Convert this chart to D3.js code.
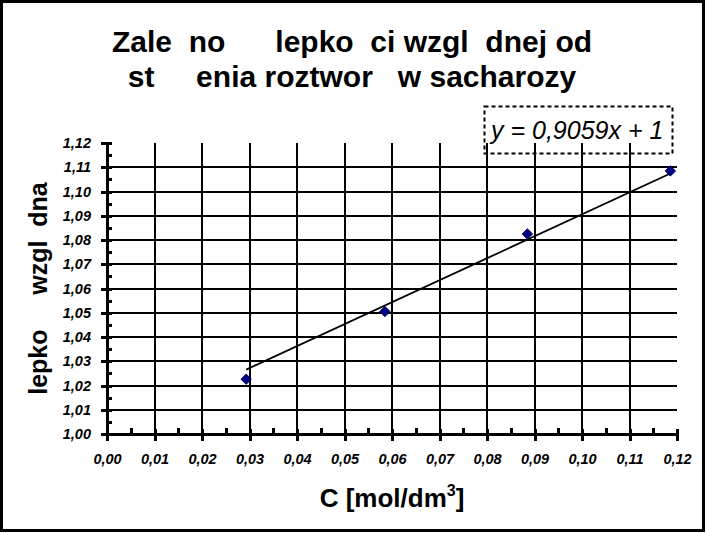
<!DOCTYPE html>
<html>
<head>
<meta charset="utf-8">
<script src="https://cdn.jsdelivr.net/npm/d3@7"></script>
<style>
  html, body { margin: 0; padding: 0; background: #fff; }
  svg { display: block; }
  text { font-family: "Liberation Sans", Arial, Helvetica, sans-serif; white-space: pre; }
</style>
</head>
<body>
<svg id="chart" width="706" height="533"></svg>
<script>
// ---- data ----
const concentrations = [0.0293, 0.0585, 0.0885, 0.1186];
const viscosities    = [1.0226, 1.0505, 1.0825, 1.1085];
const trendSlope = 0.9059;
const trendIntercept = 1;
const xTicks = [0, 0.01, 0.02, 0.03, 0.04, 0.05, 0.06, 0.07, 0.08, 0.09, 0.10, 0.11, 0.12];
const yTicks = [1.00, 1.01, 1.02, 1.03, 1.04, 1.05, 1.06, 1.07, 1.08, 1.09, 1.10, 1.11, 1.12];
const titleLines = ["Zale  no      lepko  ci wzgl  dnej od", "st     enia roztwor   w sacharozy"];
const yTitle = "lepko     wzgl  dna";
const xTitleMain = "C [mol/dm";
const xTitleSup = "3";
const xTitleEnd = "]";
const equationText = "y = 0,9059x + 1";

// ---- setup ----
const svg = d3.select("#chart");
const W = 706, H = 533;
const plot = { left: 107, right: 677, top: 143, bottom: 434 };

const x = d3.scaleLinear().domain([0, 0.12]).range([plot.left, plot.right]);
const y = d3.scaleLinear().domain([1.00, 1.12]).range([plot.bottom, plot.top]);

const pl = d3.formatLocale({ decimal: ",", thousands: " ", grouping: [3], currency: ["", " zł"] });
const fmt = pl.format(".2f");

// outer border
svg.append("rect")
  .attr("x", 1.5).attr("y", 1.5).attr("width", W - 4).attr("height", H - 4)
  .attr("fill", "#fff").attr("stroke", "#000").attr("stroke-width", 3);

// title
svg.append("text")
  .attr("x", 352).attr("text-anchor", "middle")
  .attr("font-size", 30).attr("font-weight", "bold")
  .selectAll("tspan").data(titleLines).join("tspan")
  .attr("x", 352).attr("y", (d, i) => 52 + i * 35)
  .text(d => d);

// gridlines
const grid = svg.append("g").attr("stroke", "#000").attr("stroke-width", 2)
  .attr("shape-rendering", "crispEdges");
grid.selectAll("line.h").data(yTicks.filter(v => v > 1.0 && v < 1.12)).join("line")
  .attr("class", "h")
  .attr("x1", plot.left).attr("x2", plot.right)
  .attr("y1", d => y(d)).attr("y2", d => y(d));
grid.selectAll("line.v").data(xTicks.filter(v => v > 0 && v < 0.12)).join("line")
  .attr("class", "v")
  .attr("y1", plot.top).attr("y2", plot.bottom)
  .attr("x1", d => x(d)).attr("x2", d => x(d));

// minor tick values
const xMinor = d3.range(0, 12).map(i => (i + 0.5) / 100);
const yMinor = d3.range(0, 12).map(i => 1 + (i + 0.5) / 100);

function styleAxis(g) {
  g.select(".domain").remove();
  g.selectAll(".tick line").attr("stroke", "#000").attr("stroke-width", 3)
    .attr("shape-rendering", "crispEdges");
}

// X axis: major ticks down, plus up parts, minor ticks up
const xAxisG = svg.append("g").attr("transform", `translate(0,${plot.bottom})`);
xAxisG.call(d3.axisBottom(x).tickValues(xTicks).tickFormat(fmt).tickSize(7).tickPadding(13))
  .call(styleAxis);
xAxisG.selectAll(".tick text")
  .attr("font-family", "'Liberation Sans', Arial, sans-serif")
  .attr("font-size", 14.5).attr("font-weight", "bold").attr("font-style", "italic").attr("fill", "#000");
svg.append("g").attr("transform", `translate(0,${plot.bottom})`)
  .call(d3.axisTop(x).tickValues(xTicks).tickFormat("").tickSize(5)).call(styleAxis);
svg.append("g").attr("transform", `translate(0,${plot.bottom})`)
  .call(d3.axisTop(x).tickValues(xMinor).tickFormat("").tickSize(6)).call(styleAxis);
svg.append("line")
  .attr("x1", plot.left - 1.5).attr("x2", plot.right + 1.5)
  .attr("y1", plot.bottom).attr("y2", plot.bottom)
  .attr("stroke", "#000").attr("stroke-width", 3).attr("shape-rendering", "crispEdges");

// Y axis
const yAxisG = svg.append("g").attr("transform", `translate(${plot.left},0)`);
yAxisG.call(d3.axisLeft(y).tickValues(yTicks).tickFormat(fmt).tickSize(6).tickPadding(10))
  .call(styleAxis);
yAxisG.selectAll(".tick text")
  .attr("font-family", "'Liberation Sans', Arial, sans-serif")
  .attr("font-size", 14.5).attr("font-weight", "bold").attr("font-style", "italic").attr("fill", "#000");
svg.append("g").attr("transform", `translate(${plot.left},0)`)
  .call(d3.axisRight(y).tickValues(yTicks).tickFormat("").tickSize(5)).call(styleAxis);
svg.append("g").attr("transform", `translate(${plot.left},0)`)
  .call(d3.axisRight(y).tickValues(yMinor).tickFormat("").tickSize(5)).call(styleAxis);
svg.append("line")
  .attr("x1", plot.left).attr("x2", plot.left)
  .attr("y1", plot.top).attr("y2", plot.bottom + 1.5)
  .attr("stroke", "#000").attr("stroke-width", 3).attr("shape-rendering", "crispEdges");

// trend line
const xMin = d3.min(concentrations), xMax = d3.max(concentrations);
const trendPts = [xMin, xMax].map(c => [c, trendIntercept + trendSlope * c]);
svg.append("path")
  .datum(trendPts)
  .attr("fill", "none").attr("stroke", "#000").attr("stroke-width", 1.8)
  .attr("d", d3.line().x(d => x(d[0])).y(d => y(d[1])));

// points
const pts = concentrations.map((c, i) => ({ c, v: viscosities[i] }));
svg.append("g").selectAll("path").data(pts).join("path")
  .attr("transform", d => `translate(${x(d.c)},${y(d.v)}) rotate(45)`)
  .attr("d", d3.symbol(d3.symbolSquare, 55)())
  .attr("fill", "#000080").attr("stroke", "#000050").attr("stroke-width", 0.8);

// equation box
svg.append("rect")
  .attr("x", 484.5).attr("y", 106.5).attr("width", 188).attr("height", 47)
  .attr("fill", "none")
  .attr("stroke", "#000").attr("stroke-width", 2).attr("stroke-dasharray", "4,3");
svg.append("text")
  .attr("x", 491).attr("y", 138.5)
  .attr("font-size", 25).attr("font-style", "italic").attr("fill", "#000")
  .text(equationText);

// y axis title
svg.append("text")
  .attr("transform", `translate(47,${(plot.top + plot.bottom) / 2}) rotate(-90)`)
  .attr("text-anchor", "middle")
  .attr("font-size", 25).attr("font-weight", "bold")
  .text(yTitle);

// x axis title
const xt = svg.append("text")
  .attr("x", (plot.left + plot.right) / 2).attr("y", 507)
  .attr("text-anchor", "middle")
  .attr("font-size", 26).attr("font-weight", "bold");
xt.append("tspan").text(xTitleMain);
xt.append("tspan").attr("font-size", 16).attr("dy", -11).text(xTitleSup);
xt.append("tspan").attr("dy", 11).text(xTitleEnd);
</script>
</body>
</html>
